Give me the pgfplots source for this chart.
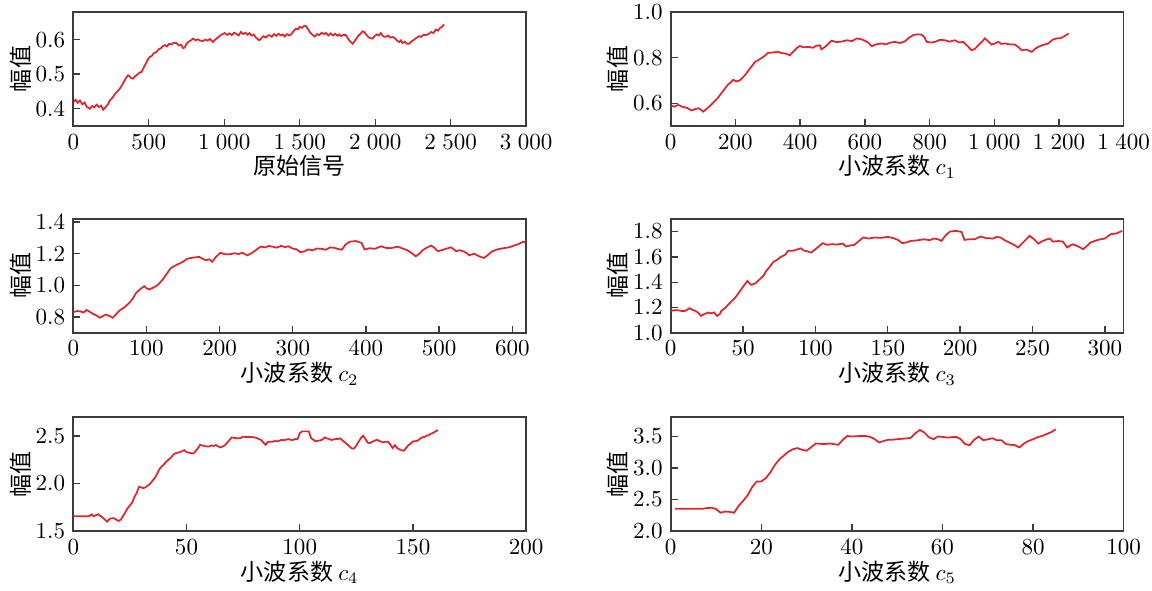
\documentclass[border=0pt]{standalone}
\usepackage{fontspec}
\usepackage{pgfplots}
\pgfplotsset{compat=1.18}
\newfontfamily\cjk{Noto Sans CJK SC}
\definecolor{sigred}{RGB}{224,36,42}
\definecolor{axgray}{RGB}{60,60,60}
\pgfplotsset{
  sig/.style={sigred, line width=0.75pt, mark=none},
  panel/.style={scale only axis, width=196.6pt, height=49.5pt,
    axis line style={axgray, line width=0.7pt},
    tick align=inside, xtick pos=bottom, ytick pos=left,
    major tick length=3pt, tick style={axgray, line width=0.6pt},
    ylabel={\cjk 幅值}, ylabel shift=-5pt, xlabel shift=-4pt,
    x tick label style={/pgf/number format/1000 sep={\;}},
    y tick label style={/pgf/number format/.cd, fixed, fixed zerofill, precision=1},
  }
}
\begin{document}
\begin{tikzpicture}
% ---------- row 1 left: original signal
\begin{axis}[panel, name=a1, at={(0pt,0pt)}, anchor=north west,
  xmin=0, xmax=3000, ymin=0.35, ymax=0.68, xtick={0,500,...,3000}, ytick={0.4,0.5,0.6},
  xlabel={\cjk 原始信号}]
\addplot[sig] coordinates {
(0,0.419)(15,0.426)(30,0.417)(44,0.424)(60,0.413)(75,0.418)(90,0.405)(110,0.400)(125,0.408)(140,0.404)
(154,0.412)(170,0.405)(185,0.409)(198,0.397)(215,0.405)(230,0.413)(242,0.424)(260,0.432)(275,0.442)(290,0.449)
(308,0.458)(325,0.470)(340,0.482)(352,0.491)(363,0.497)(375,0.493)(385,0.488)(396,0.487)(410,0.494)(425,0.499)
(440,0.505)(452,0.506)(465,0.518)(480,0.530)(495,0.543)(507,0.550)(520,0.553)(535,0.561)(551,0.564)(565,0.572)
(580,0.575)(595,0.582)(606,0.584)(620,0.580)(635,0.588)(650,0.586)(665,0.591)(683,0.590)(700,0.583)(715,0.585)
(728,0.575)(738,0.577)(750,0.588)(765,0.594)(780,0.598)(793,0.603)(810,0.598)(825,0.601)(840,0.597)(859,0.596)
(875,0.600)(890,0.597)(905,0.602)(925,0.593)(940,0.600)(955,0.605)(970,0.611)(985,0.615)(1002,0.619)(1020,0.614)
(1035,0.618)(1050,0.613)(1065,0.620)(1079,0.617)(1095,0.612)(1110,0.622)(1125,0.616)(1140,0.620)(1155,0.614)(1167,0.619)
(1180,0.612)(1195,0.615)(1210,0.606)(1225,0.600)(1233,0.598)(1245,0.604)(1260,0.610)(1275,0.606)(1290,0.612)(1300,0.613)
(1315,0.608)(1330,0.616)(1345,0.611)(1360,0.617)(1375,0.612)(1388,0.615)(1400,0.609)(1415,0.616)(1430,0.612)(1443,0.615)
(1460,0.625)(1475,0.632)(1490,0.630)(1498,0.637)(1515,0.634)(1530,0.640)(1542,0.639)(1555,0.630)(1570,0.620)(1586,0.613)
(1600,0.609)(1615,0.616)(1630,0.613)(1645,0.620)(1660,0.616)(1674,0.619)(1690,0.612)(1705,0.618)(1720,0.612)(1735,0.617)
(1750,0.611)(1762,0.615)(1775,0.610)(1790,0.614)(1806,0.613)(1818,0.604)(1830,0.597)(1840,0.592)(1850,0.588)(1862,0.595)
(1875,0.603)(1890,0.612)(1905,0.618)(1915,0.624)(1927,0.622)(1940,0.615)(1955,0.607)(1970,0.604)(1982,0.603)(1995,0.610)
(2010,0.615)(2025,0.612)(2037,0.619)(2050,0.611)(2060,0.608)(2070,0.608)(2085,0.612)(2100,0.606)(2115,0.608)(2130,0.604)
(2145,0.597)(2159,0.593)(2170,0.598)(2180,0.590)(2195,0.594)(2210,0.588)(2225,0.588)(2240,0.595)(2255,0.599)(2270,0.604)
(2291,0.610)(2305,0.608)(2320,0.614)(2335,0.613)(2357,0.617)(2370,0.622)(2385,0.619)(2401,0.629)(2415,0.626)(2430,0.634)
(2445,0.638)(2456,0.644)};
\end{axis}
% ---------- row 1 right: c1
\begin{axis}[panel, name=a2, at={(259.3pt,0pt)}, anchor=north west,
  xmin=0, xmax=1400, ymin=0.5, ymax=1.0, xtick={0,200,...,1400}, ytick={0.6,0.8,1.0},
  xlabel={\cjk 小波系数\ $c_1$}]
\addplot[sig] coordinates {
(0,0.590)(12,0.585)(23,0.593)(33,0.586)(43,0.582)(53,0.578)(64,0.568)(75,0.574)(85,0.578)(93,0.572)
(100,0.563)(108,0.572)(115,0.580)(130,0.600)(146,0.624)(160,0.650)(177,0.682)(185,0.690)(193,0.703)(203,0.695)
(213,0.700)(221,0.710)(229,0.722)(245,0.752)(260,0.780)(272,0.790)(286,0.803)(294,0.812)(301,0.821)(315,0.822)
(332,0.826)(342,0.820)(353,0.818)(360,0.815)(368,0.810)(380,0.828)(390,0.842)(399,0.851)(410,0.845)(425,0.847)
(440,0.843)(450,0.852)(461,0.854)(466,0.836)(480,0.850)(497,0.874)(512,0.868)(528,0.870)(545,0.876)(560,0.872)
(575,0.884)(590,0.880)(600,0.874)(610,0.866)(621,0.850)(635,0.858)(652,0.862)(665,0.858)(680,0.866)(693,0.869)
(708,0.864)(724,0.871)(737,0.888)(750,0.899)(763,0.902)(775,0.901)(784,0.890)(791,0.869)(805,0.866)(817,0.869)
(832,0.878)(847,0.876)(862,0.870)(878,0.876)(892,0.866)(904,0.869)(918,0.850)(930,0.832)(940,0.838)(951,0.854)
(962,0.870)(971,0.884)(982,0.870)(992,0.857)(1002,0.862)(1012,0.869)(1022,0.860)(1033,0.862)(1048,0.858)(1064,0.857)
(1075,0.845)(1085,0.832)(1100,0.835)(1116,0.825)(1126,0.838)(1136,0.847)(1150,0.855)(1167,0.862)(1180,0.878)(1193,0.884)
(1205,0.885)(1218,0.895)(1230,0.906)};
\end{axis}
% ---------- row 2 left: c2
\begin{axis}[panel, name=a3, at={(0pt,-89.8pt)}, anchor=north west,
  xmin=0, xmax=619, ymin=0.7, ymax=1.42, xtick={0,100,...,600}, ytick={0.8,1.0,1.2,1.4},
  xlabel={\cjk 小波系数\ $c_2$}]
\addplot[sig] coordinates {
(0,0.831)(5,0.838)(9,0.837)(14,0.829)(18,0.845)(22,0.835)(27,0.820)(32,0.810)(36,0.796)(41,0.808)
(45,0.816)(50,0.806)(54,0.796)(58,0.815)(63,0.841)(70,0.862)(77,0.892)(82,0.922)(86,0.954)(92,0.978)
(97,0.995)(100,0.982)(104,0.974)(110,0.988)(115,1.001)(118,1.015)(122,1.036)(128,1.075)(133,1.108)(139,1.125)
(145,1.138)(150,1.150)(156,1.169)(163,1.175)(172,1.180)(176,1.170)(181,1.159)(186,1.165)(190,1.149)(195,1.180)
(201,1.206)(207,1.197)(213,1.196)(220,1.203)(226,1.198)(231,1.206)(238,1.190)(244,1.205)(249,1.221)(253,1.235)
(256,1.245)(262,1.240)(267,1.249)(272,1.245)(278,1.238)(284,1.250)(289,1.242)(294,1.247)(300,1.232)(305,1.228)
(310,1.210)(316,1.215)(321,1.227)(327,1.222)(333,1.233)(339,1.231)(345,1.225)(351,1.240)(357,1.237)(362,1.230)
(367,1.225)(372,1.258)(378,1.276)(386,1.280)(394,1.268)(398,1.227)(405,1.235)(412,1.231)(417,1.240)(421,1.247)
(427,1.237)(434,1.235)(439,1.240)(443,1.245)(450,1.233)(457,1.221)(462,1.205)(468,1.184)(473,1.200)(477,1.221)
(483,1.238)(489,1.251)(493,1.240)(498,1.216)(505,1.225)(510,1.232)(516,1.241)(520,1.228)(523,1.216)(528,1.222)
(534,1.214)(538,1.202)(541,1.190)(545,1.196)(548,1.200)(554,1.185)(561,1.173)(566,1.190)(572,1.214)(580,1.228)
(588,1.235)(595,1.240)(602,1.251)(608,1.260)(615,1.276)(618,1.272)};
\end{axis}
% ---------- row 2 right: c3
\begin{axis}[panel, name=a4, at={(259.3pt,-89.8pt)}, anchor=north west,
  xmin=0, xmax=313, ymin=1.0, ymax=1.9, xtick={0,50,...,300}, ytick={1.0,1.2,...,1.8},
  xlabel={\cjk 小波系数\ $c_3$}]
\addplot[sig] coordinates {
(0,1.174)(2,1.178)(5,1.179)(8,1.172)(10,1.174)(13,1.195)(15,1.182)(17,1.174)(19,1.160)(21,1.134)
(23,1.148)(26,1.161)(28,1.155)(30,1.162)(32,1.134)(34,1.150)(35,1.174)(38,1.200)(40,1.226)(42,1.250)
(44,1.271)(46,1.300)(48,1.332)(51,1.380)(53,1.411)(55,1.385)(56,1.379)(59,1.395)(61,1.418)(64,1.450)
(66,1.489)(69,1.530)(71,1.561)(74,1.580)(76,1.600)(79,1.615)(81,1.647)(85,1.650)(90,1.668)(92,1.650)
(95,1.642)(97,1.634)(101,1.670)(105,1.708)(108,1.695)(111,1.700)(115,1.698)(119,1.705)(121,1.682)(124,1.690)
(127,1.695)(130,1.725)(133,1.753)(137,1.745)(141,1.753)(145,1.750)(150,1.758)(154,1.748)(157,1.734)(160,1.708)
(163,1.715)(166,1.726)(170,1.730)(175,1.739)(179,1.732)(182,1.745)(185,1.738)(187,1.726)(190,1.770)(193,1.800)
(197,1.805)(201,1.797)(203,1.734)(207,1.740)(210,1.739)(214,1.761)(218,1.748)(223,1.745)(225,1.758)(228,1.753)
(231,1.730)(235,1.708)(238,1.690)(240,1.674)(244,1.720)(248,1.766)(251,1.740)(254,1.705)(257,1.725)(260,1.739)
(262,1.745)(264,1.721)(268,1.725)(271,1.721)(274,1.674)(276,1.690)(278,1.700)(282,1.680)(285,1.661)(288,1.690)
(290,1.713)(294,1.730)(297,1.739)(300,1.745)(304,1.779)(308,1.785)(312,1.805)};
\end{axis}
% ---------- row 3 left: c4
\begin{axis}[panel, name=a5, at={(0pt,-175.8pt)}, anchor=north west,
  xmin=0, xmax=200, ymin=1.5, ymax=2.7, xtick={0,50,...,200}, ytick={1.5,2.0,2.5},
  xlabel={\cjk 小波系数\ $c_4$}]
\addplot[sig] coordinates {
(0,1.655)(7,1.655)(8,1.676)(9,1.655)(10,1.668)(11,1.676)(12,1.66)(13,1.641)(14,1.62)(15,1.599)
(16,1.628)(17,1.634)(18,1.634)(19,1.62)(20,1.606)(21,1.62)(22,1.658)(23,1.70)(24,1.74)(25,1.77)
(26,1.80)(27,1.859)(28,1.90)(29,1.965)(30,1.96)(31,1.951)(32,1.962)(33,1.98)(34,2.00)(35,2.03)
(36,2.06)(37,2.10)(38,2.15)(39,2.18)(40,2.20)(41,2.23)(42,2.25)(43,2.27)(44,2.30)(45,2.317)
(46,2.325)(47,2.33)(48,2.34)(49,2.352)(50,2.33)(51,2.325)(52,2.32)(53,2.317)(54,2.34)(55,2.37)
(56,2.408)(57,2.40)(58,2.395)(59,2.39)(60,2.391)(61,2.40)(62,2.395)(63,2.405)(64,2.39)(65,2.38)
(66,2.39)(67,2.405)(68,2.43)(69,2.46)(70,2.486)(71,2.48)(72,2.478)(73,2.475)(74,2.48)(75,2.493)
(76,2.49)(77,2.49)(78,2.49)(79,2.49)(80,2.486)(81,2.478)(82,2.468)(83,2.458)(84,2.43)(85,2.408)
(86,2.44)(87,2.44)(88,2.44)(89,2.448)(90,2.445)(91,2.451)(92,2.46)(93,2.455)(94,2.462)(95,2.468)
(96,2.46)(97,2.458)(98,2.47)(99,2.468)(100,2.53)(101,2.549)(102,2.549)(103,2.549)(104,2.549)(105,2.479)
(106,2.46)(107,2.444)(108,2.45)(109,2.455)(110,2.461)(111,2.486)(112,2.475)(113,2.47)(114,2.458)(115,2.465)
(116,2.468)(117,2.47)(118,2.475)(119,2.45)(120,2.433)(121,2.41)(122,2.39)(123,2.37)(124,2.37)(125,2.40)
(126,2.44)(127,2.48)(128,2.504)(129,2.47)(130,2.43)(131,2.426)(132,2.44)(133,2.45)(134,2.461)(135,2.45)
(136,2.44)(137,2.433)(138,2.44)(139,2.44)(140,2.41)(141,2.373)(142,2.405)(143,2.373)(144,2.36)(145,2.35)
(146,2.345)(147,2.375)(148,2.405)(149,2.42)(150,2.444)(151,2.445)(152,2.451)(153,2.47)(154,2.486)(155,2.49)
(156,2.504)(157,2.51)(158,2.525)(159,2.535)(160,2.55)(161,2.563)};
\end{axis}
% ---------- row 3 right: c5
\begin{axis}[panel, name=a6, at={(259.3pt,-175.8pt)}, anchor=north west,
  xmin=0, xmax=100, ymin=2.0, ymax=3.81, xtick={0,20,...,100}, ytick={2.0,2.5,3.0,3.5},
  xlabel={\cjk 小波系数\ $c_5$}]
\addplot[sig] coordinates {
(1,2.353)(2,2.353)(3,2.353)(4,2.353)(5,2.353)(6,2.353)(7,2.353)(8,2.365)(9,2.37)(10,2.35)
(11,2.291)(12,2.31)(13,2.305)(14,2.291)(15,2.40)(16,2.48)(17,2.57)(18,2.70)(19,2.788)(20,2.788)
(21,2.84)(22,2.93)(23,3.05)(24,3.14)(25,3.20)(26,3.26)(27,3.30)(28,3.317)(29,3.29)(30,3.275)
(31,3.33)(32,3.39)(33,3.385)(34,3.38)(35,3.39)(36,3.38)(37,3.369)(38,3.45)(39,3.51)(40,3.50)
(41,3.505)(42,3.51)(43,3.51)(44,3.495)(45,3.46)(46,3.406)(47,3.43)(48,3.448)(49,3.45)(50,3.458)
(51,3.465)(52,3.469)(53,3.48)(54,3.55)(55,3.605)(56,3.563)(57,3.49)(58,3.458)(59,3.50)(60,3.495)
(61,3.484)(62,3.49)(63,3.495)(64,3.46)(65,3.38)(66,3.364)(67,3.45)(68,3.50)(69,3.442)(70,3.455)
(71,3.474)(72,3.442)(73,3.442)(74,3.38)(75,3.37)(76,3.364)(77,3.327)(78,3.39)(79,3.43)(80,3.458)
(81,3.49)(82,3.51)(83,3.54)(84,3.57)(85,3.615)};
\end{axis}
\pgfresetboundingbox
\path (-31.8pt,5.2pt) rectangle (468.2pt,-250.9pt);
\end{tikzpicture}
\end{document}
